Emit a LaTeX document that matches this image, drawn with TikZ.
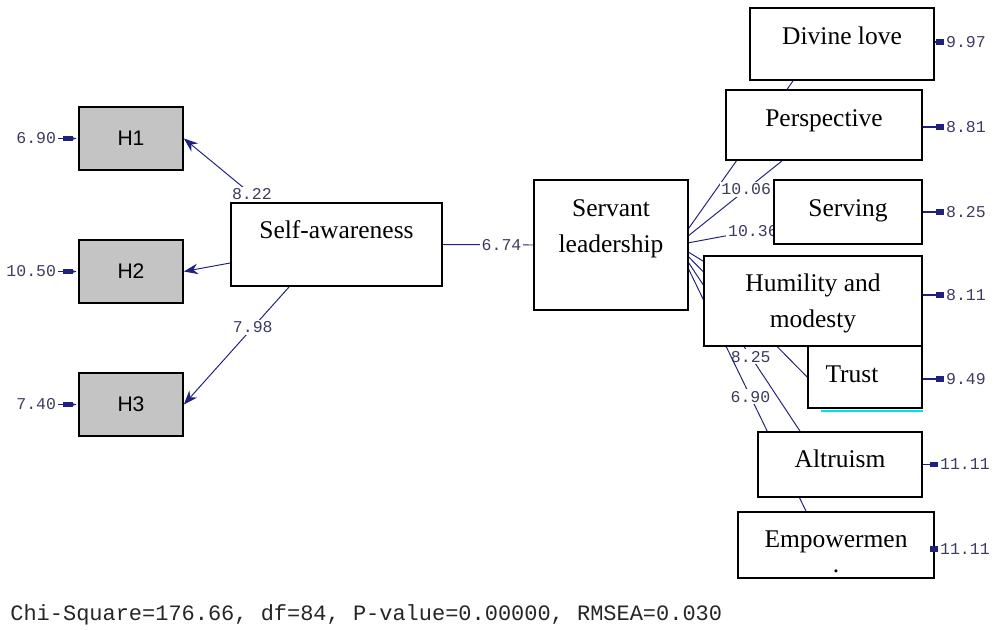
\documentclass[tikz,border=0pt]{standalone}
\usepackage{fontspec}
\setmainfont{Liberation Serif}
\setsansfont{Liberation Sans}
\setmonofont{Liberation Mono}
\usetikzlibrary{arrows.meta,positioning,backgrounds}

\definecolor{pathblue}{RGB}{32,32,128}
\definecolor{numgray}{RGB}{60,60,96}
\definecolor{boxgray}{RGB}{196,196,196}
\definecolor{trustcyan}{RGB}{0,225,225}

\tikzset{
  varbox/.style={draw=black, line width=1pt, fill=white, inner sep=0pt},
  obsbox/.style={varbox, fill=boxgray, minimum width=2.08cm, minimum height=1.26cm, font=\sffamily\fontsize{12}{14}\selectfont},
  vartext/.style={anchor=center, inner sep=0pt, font=\fontsize{14.5}{20.4}\selectfont, align=center},
  numlab/.style={fill=white, inner sep=1pt, text=numgray, font=\ttfamily\fontsize{9.4}{10}\selectfont},
  errlab/.style={inner sep=1pt, text=numgray, font=\ttfamily\fontsize{9.4}{10}\selectfont},
  load/.style={draw=pathblue, line width=0.55pt},
  loadarrow/.style={load, -{Stealth[length=8pt,width=6pt]}},
  errin/.style={draw=pathblue, line width=0.6pt, -{Rectangle[length=5.5pt,width=3.2pt] Latex[length=3pt,width=1.5pt]}},
  errout/.style={draw=pathblue, line width=0.6pt, -{Rectangle[length=4.5pt,width=3.2pt]}}
}

\begin{document}
\begin{tikzpicture}
\useasboundingbox (0,0) rectangle (19.9,-12.58);

% indicators
\node[obsbox] (H1) at (2.62,-2.77) {H1};
\node[obsbox] (H2) at (2.62,-5.43) {H2};
\node[obsbox] (H3) at (2.62,-8.09) {H3};

% latent variables
\node[varbox, minimum width=4.22cm, minimum height=1.66cm,
  label={[vartext, yshift=-0.55cm]north:Self-awareness}] (SA) at (6.73,-4.89) {};
\node[varbox, minimum width=3.08cm, minimum height=2.6cm,
  label={[vartext, yshift=-1.0cm]north:{Servant\\leadership}}] (SL) at (12.22,-4.9) {};

% servant leadership dimensions
\node[varbox, minimum width=3.68cm, minimum height=1.44cm,
  label={[vartext, yshift=-0.58cm]north:Divine love}] (DL) at (16.84,-0.88) {};
\node[varbox, minimum width=3.92cm, minimum height=1.4cm,
  label={[vartext, yshift=-0.64cm]north:Perspective}] (PE) at (16.48,-2.5) {};
\node[varbox, minimum width=2.96cm, minimum height=1.28cm,
  label={[vartext, yshift=-0.64cm]north:Serving}] (SE) at (16.96,-4.24) {};
\node[varbox, minimum width=4.36cm, minimum height=1.8cm,
  label={[vartext, yshift=-0.97cm]north:{Humility and\\modesty}}] (HM) at (16.26,-6.02) {};
\node[varbox, minimum width=2.28cm, minimum height=1.24cm,
  label={[vartext, yshift=-0.58cm, xshift=-0.26cm]north:Trust}] (TR) at (17.3,-7.54) {};
\node[varbox, minimum width=3.28cm, minimum height=1.3cm,
  label={[vartext, yshift=-0.56cm]north:Altruism}] (AL) at (16.8,-9.29) {};
\node[varbox, minimum width=3.92cm, minimum height=1.32cm,
  label={[vartext, yshift=-0.62cm]north:Empowermen},
  label={[vartext, yshift=-1.2cm]north:.}] (EM) at (16.72,-10.9) {};
\draw[trustcyan, line width=1.2pt] ([xshift=0.28cm,yshift=-0.05cm]TR.south west) -- ([yshift=-0.05cm]TR.south east);

\coordinate (hub) at ([xshift=-0.24cm]SL.east);

\begin{scope}[on background layer]
% loadings of self-awareness
\draw[loadarrow] ([xshift=0.62cm]SA.north west) -- node[numlab, pos=0.12] (w1) {8.22} (H1.east);
\draw[loadarrow] ([yshift=-0.37cm]SA.west) -- (H2.east);
\draw[loadarrow] ([xshift=1.18cm]SA.south west) -- node[numlab, pos=0.345] (w3) {7.98} (H3.east);
\draw[load] (SA.east) -- node[numlab, pos=0.65] (b1) {6.74} (SL.west);

% loadings of servant leadership
\draw[load] (hub) -- ([xshift=-0.98cm]DL.south);
\draw[load] (hub) -- node[numlab, pos=0.66] (f2) {10.06} ([xshift=-0.84cm]PE.south);
\draw[load] (hub) -- node[numlab, pos=0.79] (f3) {10.36} ([yshift=-0.3cm]SE.west);
\draw[load] (hub) -- ([yshift=-0.12cm]HM.north west);
\draw[load] (hub) -- (TR.west);
\draw[load] (hub) -- node[numlab, pos=0.6] (f6) {8.25} ([xshift=-0.8cm]AL.north);
\draw[load] (hub) -- node[numlab, pos=0.57] (f7) {6.90} ([xshift=-0.6cm]EM.north);
\end{scope}

% error terms
\node[errlab, left=0.4cm of H1] (e1) {6.90};
\node[errlab, left=0.4cm of H2] (e2) {10.50};
\node[errlab, left=0.4cm of H3] (e3) {7.40};
\draw[errin] (e1) -- (H1);
\draw[errin] (e2) -- (H2);
\draw[errin] (e3) -- (H3);

\coordinate (errx) at (18.88,0);
\node[errlab, anchor=west] (eDL) at ([yshift=0.04cm]DL.east -| errx) {9.97};
\node[errlab, anchor=west] (ePE) at ([yshift=-0.04cm]PE.east -| errx) {8.81};
\node[errlab, anchor=west] (eSE) at (SE.east -| errx) {8.25};
\node[errlab, anchor=west] (eHM) at ([yshift=0.12cm]HM.east -| errx) {8.11};
\node[errlab, anchor=west] (eTR) at ([yshift=-0.04cm]TR.east -| errx) {9.49};
\node[errlab, anchor=west, xshift=-0.12cm] (eAL) at (AL.east -| errx) {11.11};
\node[errlab, anchor=west, xshift=-0.12cm] (eEM) at ([yshift=-0.08cm]EM.east -| errx) {11.11};
\foreach \e/\v in {eDL/DL, ePE/PE, eSE/SE, eHM/HM, eTR/TR, eAL/AL, eEM/EM}
  \draw[errout] (\e.west -| \v.east) -- (\e.west);

% fit statistics
\node[anchor=west, inner sep=0pt, text=black!85, font=\ttfamily\fontsize{12.5}{14}\selectfont] (fit) at (0.2,-12.3)
  {Chi-Square=176.66, df=84, P-value=0.00000, RMSEA=0.030};
\end{tikzpicture}
\end{document}
